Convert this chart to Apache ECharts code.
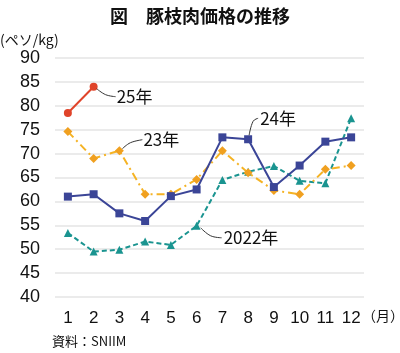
<!DOCTYPE html>
<html>
<head>
<meta charset="utf-8">
<script src="https://cdn.jsdelivr.net/npm/echarts@6/dist/echarts.min.js"></script>
<style>
  html, body { margin: 0; padding: 0; background: #fff; }
  #chart { width: 400px; height: 353px; }
</style>
</head>
<body>
<div id="chart"></div>
<script>
// 月
var months = ['1', '2', '3', '4', '5', '6', '7', '8', '9', '10', '11', '12'];
// 豚枝肉価格（ペソ/kg）
var y2022 = [53.4, 49.5, 49.9, 51.6, 50.9, 54.9, 64.5, 66.2, 67.4, 64.3, 63.8, 77.4];
var y2023 = [74.6, 69.0, 70.6, 61.5, 61.5, 64.6, 70.6, 66.0, 62.3, 61.5, 66.7, 67.5];
var y2024 = [61.0, 61.5, 57.5, 55.9, 61.1, 62.5, 73.4, 73.0, 63.0, 67.5, 72.5, 73.4];
var y2025 = [78.5, 84.0];
var yTicks = [40, 45, 50, 55, 60, 65, 70, 75, 80, 85, 90];

var font = '"Noto Sans CJK JP", "Noto Sans", sans-serif';
var numFont = '"Liberation Sans", Arial, sans-serif';
var chartDom = document.getElementById('chart');
var myChart = echarts.init(chartDom);

var option = {
  animation: false,
  title: {
    text: '図　豚枝肉価格の推移',
    left: 'center',
    top: 2,
    textStyle: { fontFamily: font, fontSize: 18, fontWeight: 'bold', color: '#111' }
  },
  grid: { left: 55, right: 36, top: 58, bottom: 56 },
  xAxis: {
    type: 'category',
    data: months,
    boundaryGap: true,
    axisLine: { show: false },
    axisTick: { show: false },
    axisLabel: { fontFamily: numFont, fontSize: 17, color: '#111', margin: 13, interval: 0 }
  },
  yAxis: {
    type: 'value',
    min: yTicks[0],
    max: yTicks[yTicks.length - 1],
    interval: 5,
    axisLine: { show: false },
    axisTick: { show: false },
    axisLabel: { fontFamily: numFont, fontSize: 18, color: '#111', margin: 15 },
    splitLine: { lineStyle: { color: '#e4e4e4', width: 1.5 } }
  },
  series: [
    {
      name: '2022年',
      type: 'line',
      data: y2022,
      symbol: 'triangle',
      symbolSize: 8,
      lineStyle: { color: '#1a9490', width: 2, type: [5, 3] },
      itemStyle: { color: '#1a9490' },
      z: 2
    },
    {
      name: '23年',
      type: 'line',
      data: y2023,
      symbol: 'diamond',
      symbolSize: 9,
      lineStyle: { color: '#f5b324', width: 2, type: [8, 4, 2, 4] },
      itemStyle: { color: '#f0a020' },
      z: 3
    },
    {
      name: '24年',
      type: 'line',
      data: y2024,
      symbol: 'rect',
      symbolSize: 8,
      lineStyle: { color: '#3b4597', width: 2 },
      itemStyle: { color: '#3b4597' },
      z: 4
    },
    {
      name: '25年',
      type: 'line',
      data: y2025,
      symbol: 'circle',
      symbolSize: 8,
      lineStyle: { color: '#e0442a', width: 2 },
      itemStyle: { color: '#e0442a' },
      z: 5
    }
  ]
};
myChart.setOption(option);

// 系列名の注記（引き出し線つき）
function note(seriesIndex, idx, val, pts, tx, ty, text) {
  var p = myChart.convertToPixel({ seriesIndex: seriesIndex }, [idx, val]);
  return [
    {
      type: 'polyline',
      shape: { points: pts.map(function (d) { return [p[0] + d[0], p[1] + d[1]]; }), smooth: 0.4 },
      style: { stroke: '#333', lineWidth: 1, fill: null },
      z: 20
    },
    {
      type: 'text',
      x: p[0] + tx,
      y: p[1] + ty,
      style: { text: text, fontFamily: font, fontSize: 17, fill: '#111', textVerticalAlign: 'middle' },
      z: 20
    }
  ];
}

var g = [];
g = g.concat(note(3, 1, y2025[1], [[3, 2], [12, 8], [22, 10]], 23, 10, '25年'));
g = g.concat(note(1, 2, y2023[2], [[3, -2], [11, -8], [23, -11]], 24, -11, '23年'));
g = g.concat(note(2, 7, y2024[7], [[1, -4], [5, -18], [10, -21]], 12, -21, '24年'));
g = g.concat(note(0, 5, y2022[5], [[4, 2], [14, 10], [25, 12]], 27, 12, '2022年'));

g.push({
  type: 'text', left: 0, top: 33,
  style: { text: '(ペソ/kg)', fontFamily: font, fontSize: 14, fill: '#111' }
});
g.push({
  type: 'text', left: 362, top: 309,
  style: { text: '（月）', fontFamily: font, fontSize: 14, fill: '#111' }
});
g.push({
  type: 'text', left: 52, top: 335,
  style: { text: '資料：SNIIM', fontFamily: font, fontSize: 13, fill: '#111' }
});

myChart.setOption({ graphic: g });
</script>
</body>
</html>
